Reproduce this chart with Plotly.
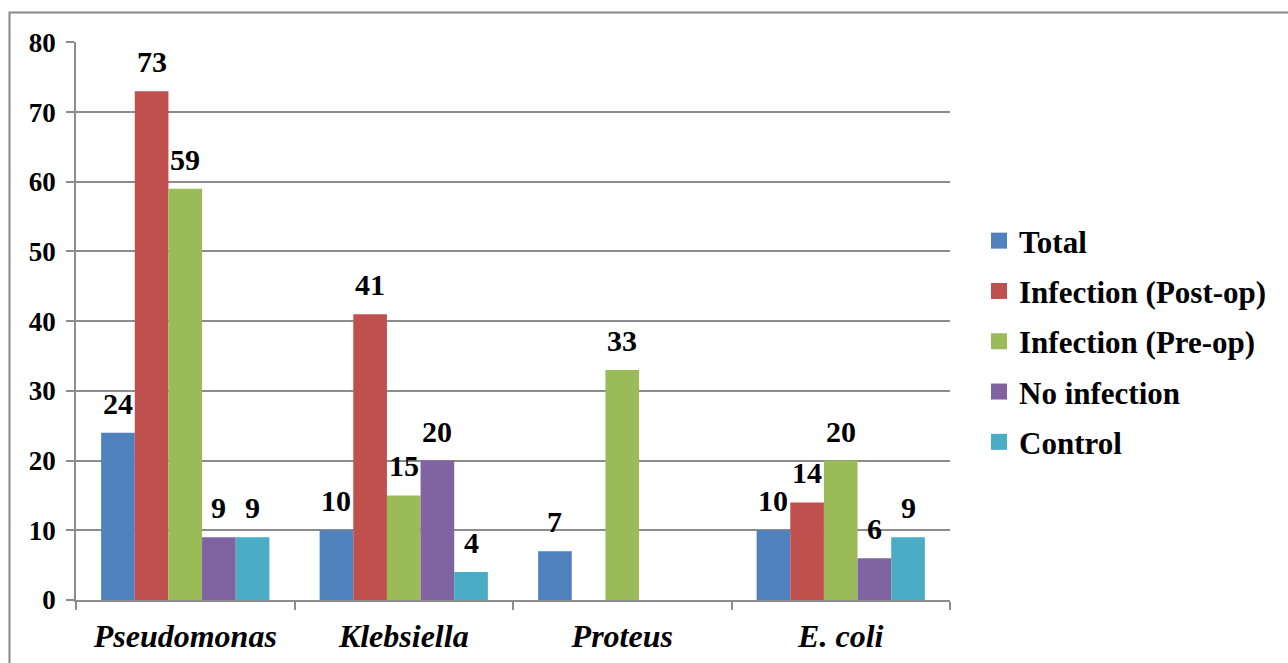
import plotly.graph_objects as go

# Bacterial isolates per group
categories = ["Pseudomonas", "Klebsiella", "Proteus", "E. coli"]
series_names = ["Total", "Infection (Post-op)", "Infection (Pre-op)", "No infection", "Control"]
total = [24, 10, 7, 10]
post_op = [73, 41, None, 14]
pre_op = [59, 15, 33, 20]
no_infection = [9, 20, None, 6]
control = [9, 4, None, 9]
y_ticks = [0, 10, 20, 30, 40, 50, 60, 70, 80]

series_values = [total, post_op, pre_op, no_infection, control]
colors = ["#4F81BD", "#C0504D", "#9BBB59", "#8064A2", "#4BACC6"]

W, H = 1288, 663
ML, MR, MT, MB = 76, 338, 42, 63
BARGAP = 0.23
n_series = len(series_names)
bar_w = (1 - BARGAP) / n_series

FONT = "Liberation Serif"
GRID = "#8C8C8C"

x_idx = list(range(len(categories)))

fig = go.Figure()
for j, (name, vals, col) in enumerate(zip(series_names, series_values, colors)):
    fig.add_trace(go.Bar(
        x=x_idx, y=vals, name=name, showlegend=False,
        marker=dict(color=col, line=dict(width=0)),
    ))

# legend entries with square swatches
for j, (name, col) in enumerate(zip(series_names, colors)):
    fig.add_trace(go.Scatter(
        x=[None], y=[None], mode="markers", name=f"<b>{name}</b>",
        marker=dict(symbol="square", size=16, color=col),
        legendgroup=name,
    ))

# value labels above each bar
annotations = []
for j, vals in enumerate(series_values):
    for i, v in enumerate(vals):
        if v is None:
            continue
        annotations.append(dict(
            x=i + (j - (n_series - 1) / 2) * bar_w, y=v,
            xref="x", yref="y", text=f"<b>{v}</b>", showarrow=False,
            yanchor="bottom", xanchor="center", yshift=11,
            font=dict(family=FONT, size=30, color="black"),
        ))

plot_w = W - ML - MR
plot_h = H - MT - MB
shapes = [dict(
    type="rect", xref="paper", yref="paper",
    x0=(9.5 - ML) / plot_w, x1=1.6,
    y0=-0.5, y1=(H - MB - 12.5) / plot_h,
    line=dict(color="#888888", width=2), fillcolor="rgba(0,0,0,0)", layer="below",
)]

fig.update_layout(
    width=W, height=H,
    margin=dict(l=ML, r=MR, t=MT, b=MB, pad=0, autoexpand=False),
    paper_bgcolor="white", plot_bgcolor="white",
    barmode="group", bargap=BARGAP, bargroupgap=0,
    font=dict(family=FONT, color="black"),
    annotations=annotations, shapes=shapes,
    legend=dict(
        x=(979 - ML) / plot_w, xanchor="left",
        y=(H - MB - 341.5) / plot_h, yanchor="middle",
        font=dict(family=FONT, size=31, color="black"),
        tracegroupgap=7, itemwidth=30,
        bgcolor="rgba(0,0,0,0)",
    ),
    xaxis=dict(
        range=[-0.5, len(categories) - 0.5],
        tickvals=x_idx,
        ticktext=[f"<b><i>{c}</i></b>" for c in categories],
        ticks="", showgrid=False, zeroline=False, automargin=False,
        showline=True, linecolor=GRID, linewidth=1.5,
        ticklabelstandoff=7,
        tickfont=dict(family=FONT, size=32, color="black"),
        minor=dict(tickvals=[k - 0.5 for k in range(len(categories) + 1)],
                   ticks="outside", ticklen=8, tickcolor=GRID, tickwidth=1.5,
                   showgrid=False),
    ),
    yaxis=dict(
        range=[0, 80.05], tickvals=y_ticks,
        ticktext=[f"<b>{t}</b>" for t in y_ticks],
        ticks="outside", ticklen=8, tickcolor=GRID, tickwidth=1.5,
        showgrid=True, gridcolor=GRID, gridwidth=1.5, automargin=False,
        zeroline=False, showline=True, linecolor=GRID, linewidth=1.5,
        ticklabelstandoff=5,
        tickfont=dict(family=FONT, size=27, color="black"),
    ),
)

fig.write_html("out.html")
